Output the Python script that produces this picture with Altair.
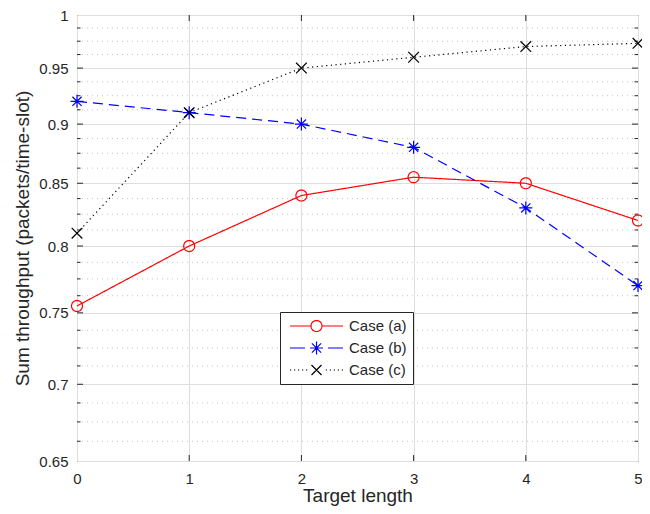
import math
import altair as alt
import pandas as pd

# ---------------- data ----------------
x_vals = [0, 1, 2, 3, 4, 5]
case_a = [0.755, 0.800, 0.840, 0.855, 0.850, 0.820]
case_b = [0.920, 0.910, 0.900, 0.880, 0.830, 0.770]
case_c = [0.810, 0.910, 0.950, 0.960, 0.970, 0.973]
series_names = ["Case (a)", "Case (b)", "Case (c)"]
y_major = [0.65, 0.7, 0.75, 0.8, 0.85, 0.9, 0.95, 1.0]
y_minor = [0.6625, 0.675, 0.6875, 0.7125, 0.725, 0.7375, 0.7625, 0.775, 0.7875,
           0.8125, 0.825, 0.8375, 0.8625, 0.875, 0.8875, 0.9125, 0.925, 0.9375,
           0.9625, 0.975, 0.9875]
x_ticks = [0, 1, 2, 3, 4, 5]
x_inner_ticks = [1, 2, 3, 4]
x_title = "Target length"
y_title = "Sum throughput (packets/time-slot)"

rows = []
for name, vals in zip(series_names, [case_a, case_b, case_c]):
    for xv, yv in zip(x_vals, vals):
        rows.append({"x": xv, "y": yv, "series": name, "lg": name})
df = pd.DataFrame(rows)
df_major = pd.DataFrame({"v": y_major[1:-1]})
df_minor = pd.DataFrame({"v": y_minor})
df_xt = pd.DataFrame({"t": x_inner_ticks})

# ---------------- style ----------------
W, H = 561, 446
TXT = "#262626"
FONT = "Liberation Sans"
colors = ["#ff0000", "#0000ff", "#000000"]
dashes = [[1, 0], [10, 6], [1.2, 3.5]]


def fmt(v):
    return f"{v:.4f}".rstrip("0").rstrip(".")


def circle(r, n=36):
    pts = [(r * math.cos(2 * math.pi * i / n), r * math.sin(2 * math.pi * i / n)) for i in range(n)]
    return "M" + "L".join(f"{fmt(a)},{fmt(b)}" for a, b in pts) + "Z"


def asterisk(r):
    d = r * 0.7071
    return (f"M0,{fmt(-r)}L0,{fmt(r)}M{fmt(-r)},0L{fmt(r)},0"
            f"M{fmt(-d)},{fmt(-d)}L{fmt(d)},{fmt(d)}M{fmt(-d)},{fmt(d)}L{fmt(d)},{fmt(-d)}")


def cross(r):
    return f"M{fmt(-r)},{fmt(-r)}L{fmt(r)},{fmt(r)}M{fmt(-r)},{fmt(r)}L{fmt(r)},{fmt(-r)}"


# chart markers (unit = 6.5 px at size 169)
marker_shapes = [circle(5.5 / 6.5), asterisk(1.0), cross(0.82)]

# legend samples (unit = 26.5 px at size 2809)
U = 26.5
rr = 5.5 / U
leg_a = f"M-1,0L{fmt(-rr)},0M{fmt(rr)},0L1,0" + circle(rr)
leg_b = "M-1,0L-0.434,0M0.434,0L1,0" + asterisk(6.5 / U)
dots = ""
for k in range(5):
    s = -1 + k * 4 / U
    dots += f"M{fmt(s)},0L{fmt(s + 1.2 / U)},0M{fmt(-s - 1.2 / U)},0L{fmt(-s)},0"
leg_c = dots + cross(5 / U)
legend_shapes = [leg_a, leg_b, leg_c]

xscale = alt.Scale(domain=[0, 5], nice=False, zero=False)
yscale = alt.Scale(type="log", domain=[0.65, 1.0], nice=False, zero=False)

xaxis = alt.Axis(values=x_ticks, format="d", grid=True, gridColor="#dedede", ticks=False,
                 tickSize=0, domain=False, labelFlush=False, labelPadding=10,
                 labelFontSize=15, labelFont=FONT, labelColor=TXT,
                 title=x_title, titleFontSize=19, titleFont=FONT, titleColor=TXT,
                 titleFontWeight="normal", titleY=25)
yaxis = alt.Axis(values=y_major, format="~g", grid=True, gridColor="#dedede", ticks=False,
                 tickSize=0, domain=False, labelFlush=False, labelOverlap=False,
                 labelPadding=9, labelFontSize=15, labelFont=FONT, labelColor=TXT,
                 title=y_title, titleFontSize=19, titleFont=FONT, titleColor=TXT,
                 titleFontWeight="normal", titleX=-45, titleY=H / 2)


def X(f):
    return alt.X(f, scale=xscale, axis=xaxis)


def Y(f):
    return alt.Y(f, scale=yscale, axis=yaxis)


minor_grid = alt.Chart(df_minor).mark_rule(color="#c4c4c4", strokeDash=[1, 4], strokeWidth=1).encode(
    y=Y("v:Q"))

tick_l_major = alt.Chart(df_major).mark_rule(color=TXT).encode(
    y=Y("v:Q"), x=alt.value(0), x2=alt.value(6))
tick_r_major = alt.Chart(df_major).mark_rule(color=TXT).encode(
    y=Y("v:Q"), x=alt.value(W), x2=alt.value(W - 6))
tick_l_minor = alt.Chart(df_minor).mark_rule(color=TXT).encode(
    y=Y("v:Q"), x=alt.value(0), x2=alt.value(3.5))
tick_r_minor = alt.Chart(df_minor).mark_rule(color=TXT).encode(
    y=Y("v:Q"), x=alt.value(W), x2=alt.value(W - 3.5))
tick_b = alt.Chart(df_xt).mark_rule(color=TXT).encode(
    x=X("t:Q"), y=alt.value(H), y2=alt.value(H - 6))
tick_t = alt.Chart(df_xt).mark_rule(color=TXT).encode(
    x=X("t:Q"), y=alt.value(0), y2=alt.value(6))

lines = alt.Chart(df).mark_line(strokeWidth=1.2).encode(
    x=X("x:Q"), y=Y("y:Q"),
    color=alt.Color("series:N", scale=alt.Scale(domain=series_names, range=colors), legend=None),
    strokeDash=alt.StrokeDash("series:N", scale=alt.Scale(domain=series_names, range=dashes), legend=None),
)

points = alt.Chart(df).mark_point(filled=False, opacity=1, strokeWidth=1.2, size=169).encode(
    x=X("x:Q"), y=Y("y:Q"),
    color=alt.Color("series:N", scale=alt.Scale(domain=series_names, range=colors), legend=None),
    shape=alt.Shape("series:N", scale=alt.Scale(domain=series_names, range=marker_shapes), legend=None),
)

leg = alt.Legend(title=None, orient="none", legendX=203, legendY=297,
                 fillColor="white", strokeColor=TXT, padding=6,
                 symbolSize=2809, symbolStrokeWidth=1.2, symbolOffset=3,
                 labelOffset=5, labelFontSize=15, labelFont=FONT, labelColor=TXT,
                 rowPadding=6, clipHeight=16, symbolOpacity=1)

legend_layer = alt.Chart(df).transform_filter("datum.x < 0").mark_point(
    filled=False, opacity=1, strokeWidth=1.2).encode(
    x=X("x:Q"), y=Y("y:Q"),
    color=alt.Color("lg:N", scale=alt.Scale(domain=series_names, range=colors), legend=leg),
    shape=alt.Shape("lg:N", scale=alt.Scale(domain=series_names, range=legend_shapes), legend=leg),
)

chart = alt.layer(
    minor_grid, tick_l_major, tick_r_major, tick_l_minor, tick_r_minor, tick_b, tick_t,
    lines, points, legend_layer
).resolve_scale(
    color="independent", shape="independent", strokeDash="independent"
).properties(
    width=W, height=H,
    padding={"left": 69, "top": 7, "right": 4, "bottom": 45},
    autosize=alt.AutoSizeParams(type="none"),
    background="white",
).configure_view(
    stroke=TXT, strokeWidth=1
)

chart.save("out.html", embed_options={"renderer": "svg", "actions": False})
